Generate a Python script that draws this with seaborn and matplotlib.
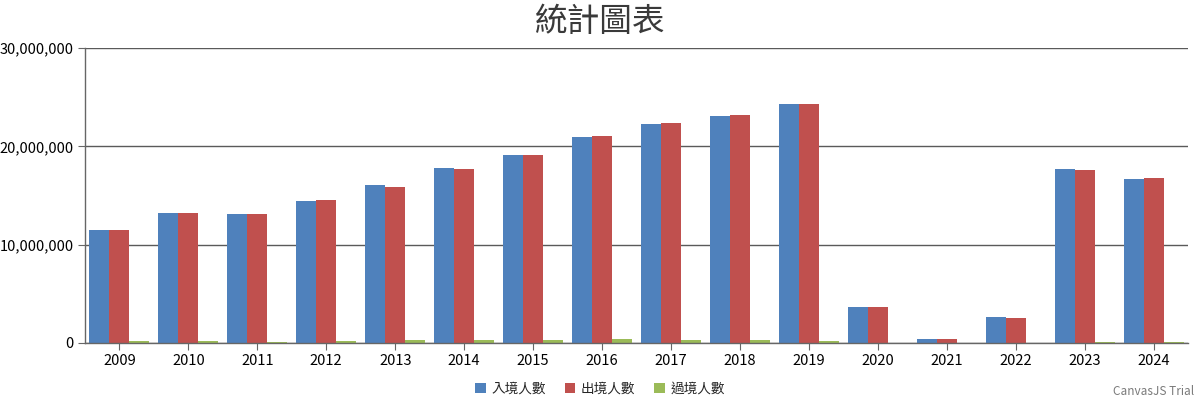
import pandas as pd
import numpy as np
import matplotlib.pyplot as plt
import seaborn as sns
import matplotlib.ticker as ticker

# 資料
years = ['2009', '2010', '2011', '2012', '2013', '2014', '2015', '2016',
         '2017', '2018', '2019', '2020', '2021', '2022', '2023', '2024']
arrivals = [11480000, 13250000, 13080000, 14470000, 16040000, 17800000, 19130000, 20970000,
            22300000, 23100000, 24270000, 3650000, 360000, 2630000, 17670000, 16680000]
departures = [11480000, 13220000, 13100000, 14540000, 15830000, 17670000, 19070000, 21040000,
              22330000, 23200000, 24270000, 3620000, 420000, 2560000, 17640000, 16750000]
transit = [180000, 170000, 150000, 190000, 300000, 300000, 300000, 360000,
           330000, 300000, 250000, 20000, 5000, 10000, 100000, 100000]
series_names = ['入境人數', '出境人數', '過境人數']
colors = ['#4F81BC', '#C0504E', '#9BBB58']

df = pd.DataFrame({
    'year': years * 3,
    'value': arrivals + departures + transit,
    'type': [series_names[0]] * len(years) + [series_names[1]] * len(years) + [series_names[2]] * len(years),
})

sns.set_style('white')
plt.rcParams['font.family'] = ['Noto Sans CJK TC', 'DejaVu Sans']

fig = plt.figure(figsize=(12, 4), dpi=100)
ax = fig.add_axes([0.0708, 0.1425, 0.9192, 0.7375])

sns.barplot(data=df, x='year', y='value', hue='type', palette=colors,
            saturation=1, width=0.87, gap=0, errorbar=None, ax=ax,
            edgecolor='none', linewidth=0)

ax.set_xlim(-0.5, len(years) - 0.5)
ax.set_ylim(0, 30000000)
ax.set_yticks([0, 10000000, 20000000, 30000000])
ax.yaxis.set_major_formatter(ticker.FuncFormatter(lambda v, _: f'{v:,.0f}'))
ax.grid(axis='y', color='#5a5a5a', linewidth=1)
ax.set_axisbelow(True)
ax.set_xlabel('')
ax.set_ylabel('')

for side in ['top', 'right']:
    ax.spines[side].set_visible(False)
for side in ['left', 'bottom']:
    ax.spines[side].set_color('#666666')
    ax.spines[side].set_linewidth(1)

ax.tick_params(axis='y', left=True, length=5, color='#666666', labelsize=10.5, labelcolor='#000000', pad=3)
ax.tick_params(axis='x', bottom=True, length=5, color='#666666', labelsize=10.5, labelcolor='#000000', pad=3)

fig.suptitle('統計圖表', x=0.5, y=0.985, fontsize=23.5, color='#3A3A3A', va='top')

handles, labels = ax.get_legend_handles_labels()
ax.get_legend().remove()
fig.legend(handles, labels, loc='center', bbox_to_anchor=(0.5, 0.028), ncol=3, frameon=False,
           handlelength=0.8, handleheight=0.8, handletextpad=0.4, columnspacing=1.4,
           prop={'size': 9.8, 'weight': 'medium'})

fig.text(0.995, 0.005, 'CanvasJS Trial', ha='right', va='bottom', fontsize=8.5, color='#7a7a7a')

fig.savefig('out.png', dpi=100)
